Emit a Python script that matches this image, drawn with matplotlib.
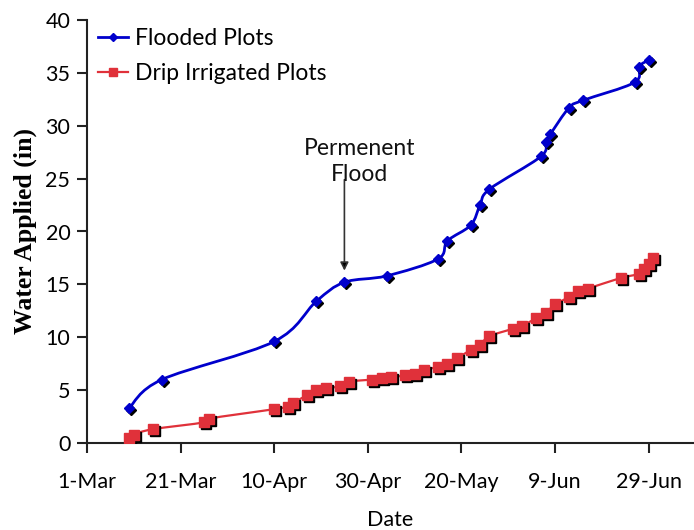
import matplotlib
matplotlib.use("Agg")
import matplotlib.pyplot as plt
import matplotlib.dates as mdates
import matplotlib.transforms as mtransforms
from matplotlib.path import Path
from matplotlib.patches import PathPatch
from matplotlib.lines import Line2D
import numpy as np
import datetime as dt

YEAR = 2007

flood_dates = ["10-Mar", "17-Mar", "10-Apr", "19-Apr", "25-Apr", "4-May", "15-May",
               "17-May", "22-May", "24-May", "26-May", "6-Jun", "7-Jun", "8-Jun",
               "12-Jun", "15-Jun", "26-Jun", "27-Jun", "29-Jun"]
flood_values = [3.3, 6.0, 9.6, 13.4, 15.2, 15.8, 17.4, 19.1, 20.6, 22.5, 24.0,
                27.1, 28.5, 29.2, 31.7, 32.4, 34.1, 35.6, 36.2]

drip_dates = ["10-Mar", "11-Mar", "15-Mar", "26-Mar", "27-Mar", "10-Apr", "13-Apr",
              "14-Apr", "17-Apr", "19-Apr", "21-Apr", "24-Apr", "26-Apr", "1-May",
              "3-May", "5-May", "8-May", "10-May", "12-May", "15-May", "17-May",
              "19-May", "22-May", "24-May", "26-May", "31-May", "2-Jun", "5-Jun",
              "7-Jun", "9-Jun", "12-Jun", "14-Jun", "16-Jun", "23-Jun", "27-Jun",
              "28-Jun", "29-Jun", "30-Jun"]
drip_values = [0.5, 0.8, 1.3, 1.95, 2.3, 3.2, 3.45, 3.8, 4.5, 5.0, 5.2, 5.35, 5.8,
               6.0, 6.1, 6.2, 6.4, 6.5, 6.9, 7.2, 7.5, 8.0, 8.8, 9.3, 10.1, 10.8,
               11.1, 11.8, 12.3, 13.1, 13.8, 14.4, 14.6, 15.6, 16.0, 16.5, 16.9, 17.5]

tick_labels = ["1-Mar", "21-Mar", "10-Apr", "30-Apr", "20-May", "9-Jun", "29-Jun"]
y_ticks = [0, 5, 10, 15, 20, 25, 30, 35, 40]
series_names = ["Flooded Plots", "Drip Irrigated Plots"]
annotation_text = "Permenent\nFlood"
annotation_date = "25-Apr"


def to_num(labels):
    return mdates.date2num([dt.datetime.strptime(f"{s}-{YEAR}", "%d-%b-%Y") for s in labels])


def smooth_path(x, y):
    # Catmull-Rom style Bezier (as in spreadsheet "smoothed line")
    x = np.asarray(x, float)
    y = np.asarray(y, float)
    pts = np.column_stack([x, y])
    n = len(pts)
    verts = [pts[0]]
    codes = [Path.MOVETO]
    for i in range(n - 1):
        p0 = pts[i - 1] if i > 0 else pts[i]
        p1 = pts[i]
        p2 = pts[i + 1]
        p3 = pts[i + 2] if i + 2 < n else pts[i + 1]
        c1 = p1 + (p2 - p0) / 6.0
        c2 = p2 - (p3 - p1) / 6.0
        verts += [c1, c2, p2]
        codes += [Path.CURVE4] * 3
    return Path(verts, codes)


fig = plt.figure(figsize=(6.94, 5.30), dpi=100)
ax = fig.add_axes([87 / 694, 87 / 530, (694 - 87) / 694, (443 - 20) / 530])

tick_font = "Lato"

fx = to_num(flood_dates)
dx = to_num(drip_dates)

blue = "#0000cc"
red = "#e0313a"

ax.add_patch(PathPatch(smooth_path(dx, drip_values), fill=False, edgecolor=red, lw=1.6, zorder=2))
ax.add_patch(PathPatch(smooth_path(fx, flood_values), fill=False, edgecolor=blue, lw=2.0, zorder=2))

shadow = ax.transData + mtransforms.ScaledTranslation(2 / 100, -2 / 100, fig.dpi_scale_trans)
ax.plot(dx, drip_values, ls="none", marker="s", ms=7.5, mfc="black", mec="black", transform=shadow, zorder=3)
ax.plot(fx, flood_values, ls="none", marker="D", ms=5.5, mfc="black", mec="black", transform=shadow, zorder=3)
ax.plot(dx, drip_values, ls="none", marker="s", ms=7.5, mfc=red, mec=red, zorder=4)
ax.plot(fx, flood_values, ls="none", marker="D", ms=5.5, mfc=blue, mec=blue, zorder=4)

# legend handles
handles = [
    Line2D([], [], color=blue, lw=2.0, marker="D", ms=4.5, mfc=blue, mec=blue),
    Line2D([], [], color=red, lw=1.6, marker="s", ms=5.5, mfc=red, mec=red),
]
leg = ax.legend(handles, series_names, loc="upper left", bbox_to_anchor=(0.0, 1.007),
                frameon=False, prop={"family": tick_font, "size": 16.5},
                handlelength=1.3, handletextpad=0.3, labelspacing=0.6,
                borderaxespad=0.3, borderpad=0.2)

x0 = to_num(["1-Mar"])[0]
ax.set_xlim(x0, x0 + 129.7)
ax.set_ylim(0, 40)
ax.set_xticks(to_num(tick_labels))
ax.set_xticklabels(tick_labels)
ax.set_yticks(y_ticks)
ax.set_yticklabels([str(v) for v in y_ticks])

for s in ["top", "right"]:
    ax.spines[s].set_visible(False)
for s in ["left", "bottom"]:
    ax.spines[s].set_linewidth(1.5)
    ax.spines[s].set_color("#222222")

ax.tick_params(axis="both", direction="out", length=7, width=1.5, color="#222222",
               labelsize=15.5, pad=5)
for lab in ax.get_xticklabels() + ax.get_yticklabels():
    lab.set_family(tick_font)
ax.tick_params(axis="x", pad=14)

ax.set_xlabel("Date", family=tick_font, fontsize=15.5, labelpad=13)
ax.set_ylabel("Water Applied (in)", family="Liberation Serif", fontweight="bold",
              fontsize=18.5, labelpad=6)

# annotation
arrow_x = to_num([annotation_date])[0]
ax.annotate("", xy=(arrow_x, 16.3), xytext=(arrow_x, 24.9),
            arrowprops=dict(arrowstyle="-|>", color="#555555", lw=1.2,
                            mutation_scale=12, shrinkA=0, shrinkB=0,
                            fc="black", ec="#333333"))
ax.text(arrow_x + 3.3, 26.65, annotation_text, ha="center", va="center",
        family=tick_font, fontsize=16.5, linespacing=1.28, color="#111111")

fig.savefig("out.png", dpi=100)
